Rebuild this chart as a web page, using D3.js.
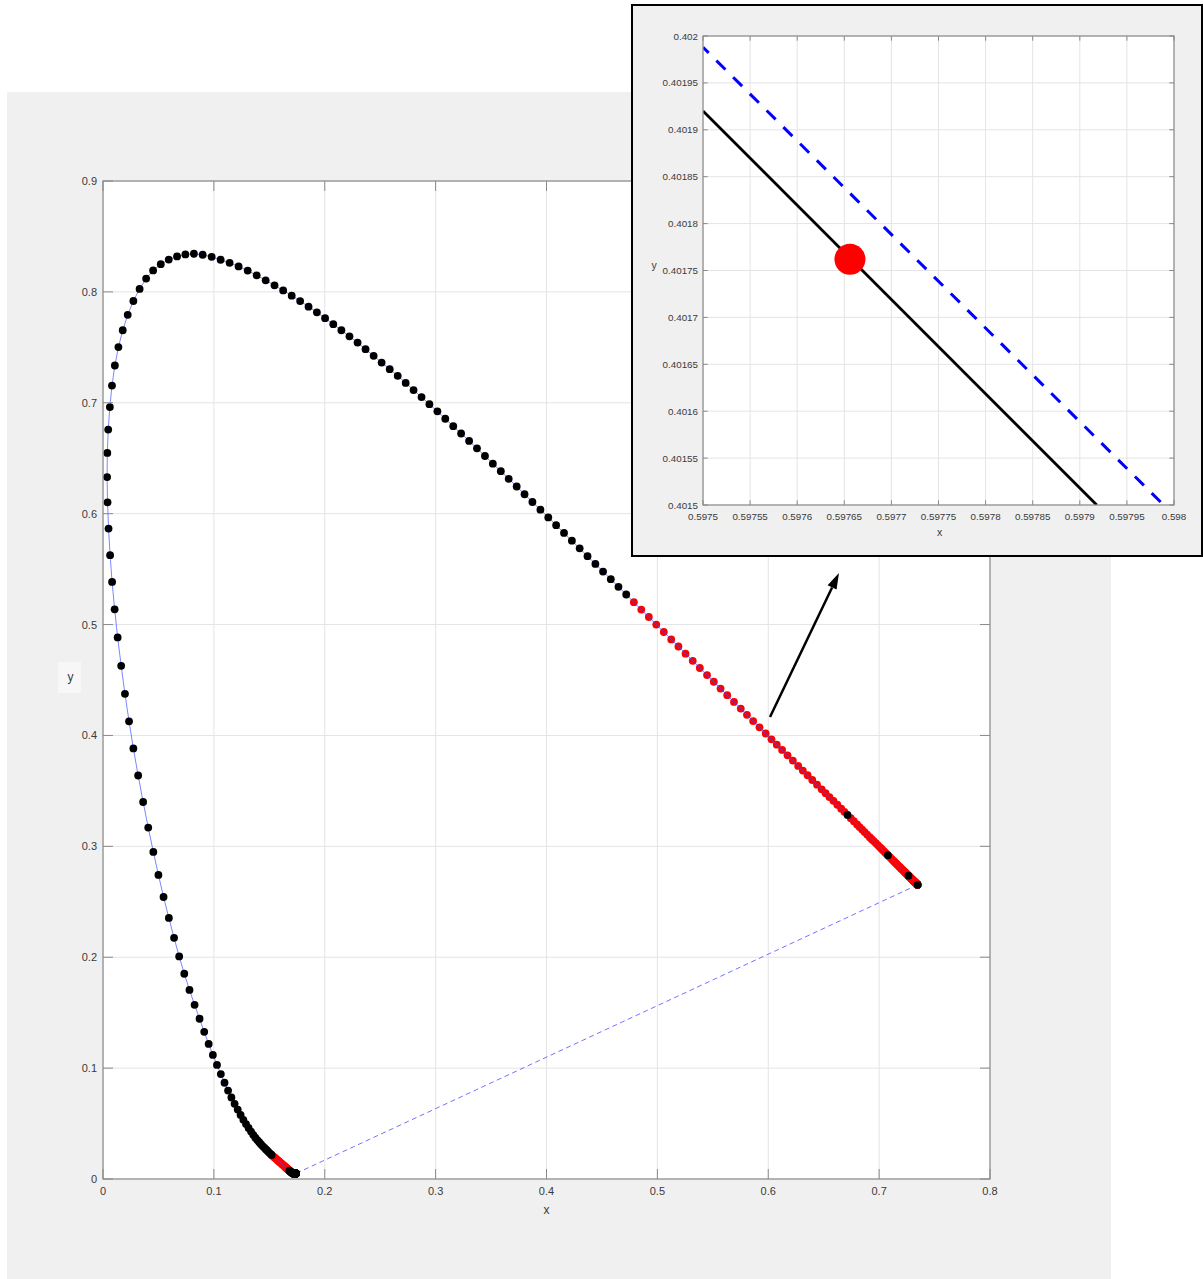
<!DOCTYPE html>
<html>
<head>
<meta charset="utf-8">
<script src="https://cdn.jsdelivr.net/npm/d3@7"></script>
<style>
  html, body { margin: 0; padding: 0; background: #ffffff; }
  svg { display: block; }
  text { font-family: "Liberation Sans", Arial, Helvetica, sans-serif; }
</style>
</head>
<body>
<svg id="chart" width="1203" height="1279"></svg>
<script>
// ---------------- DATA ----------------
// Spectral locus chromaticity points, one per nm, starting at 380 nm
const wavelengthStart = 380;
const locusX = [
  .1741,.1741,.1741,.1740,.1740,.1740,.1740,.1739,.1739,.1738,
  .1738,.1738,.1737,.1737,.1736,.1736,.1735,.1735,.1734,.1734,
  .1733,.1732,.1732,.1731,.1731,.1730,.1729,.1728,.1728,.1727,
  .1726,.1725,.1724,.1723,.1722,.1721,.1720,.1718,.1717,.1716,
  .1714,.1712,.1710,.1707,.1705,.1703,.1700,.1697,.1695,.1692,
  .1689,.1685,.1681,.1677,.1673,.1669,.1664,.1659,.1654,.1649,
  .1644,.1637,.1631,.1624,.1618,.1611,.1602,.1593,.1584,.1575,
  .1566,.1555,.1544,.1532,.1521,.1510,.1496,.1482,.1468,.1454,
  .1440,.1424,.1409,.1392,.1374,.1355,.1335,.1313,.1290,.1266,
  .1241,.1215,.1187,.1158,.1128,.1096,.1063,.1028,.0991,.0953,
  .0913,.0871,.0826,.0780,.0733,.0687,.0641,.0594,.0546,.0500,
  .0454,.0408,.0362,.0317,.0274,.0235,.0198,.0164,.0132,.0105,
  .0082,.0064,.0050,.0041,.0037,.0039,.0047,.0062,.0081,.0107,
  .0139,.0178,.0223,.0274,.0330,.0389,.0452,.0521,.0593,.0668,
  .0743,.0820,.0899,.0980,.1061,.1142,.1223,.1305,.1386,.1467,
  .1547,.1625,.1702,.1778,.1854,.1929,.2003,.2077,.2150,.2223,
  .2296,.2368,.2441,.2513,.2586,.2658,.2730,.2801,.2873,.2944,
  .3016,.3087,.3159,.3230,.3302,.3373,.3445,.3516,.3588,.3659,
  .3731,.3802,.3873,.3945,.4016,.4087,.4158,.4229,.4299,.4370,
  .4441,.4510,.4580,.4649,.4719,.4788,.4855,.4923,.4990,.5058,
  .5125,.5190,.5254,.5319,.5383,.5448,.5509,.5570,.5630,.5691,
  .5752,.5808,.5864,.5921,.59766,.6029,.6077,.6125,.6174,.6222,
  .6270,.6312,.6355,.6397,.6440,.6482,.6517,.6552,.6588,.6623,
  .6658,.6687,.6715,.6744,.6772,.6801,.6824,.6847,.6869,.6892,
  .6915,.6933,.6951,.6970,.6988,.7006,.7021,.7035,.7050,.7064,
  .7079,.7091,.7103,.7116,.7128,.7140,.7150,.7160,.7170,.7180,
  .7190,.7198,.7206,.7214,.7222,.7230,.7236,.7242,.7248,.7254,
  .7260,.7265,.7269,.7274,.7278,.7283,.7286,.7290,.7293,.7297,
  .7300,.7302,.7304,.7307,.7309,.7311,.7313,.7315,.7316,.7318,
  .7320,.7321,.7323,.7324,.7326,.7327,.7328,.7330,.7331,.7333,
  .7334,.7335,.7336,.7338,.7339,.7340,.7341,.7342,.7342,.7343,
  .7344,.7344,.7345,.7345,.7346,.7346,.7346,.7347,.7347,.7347,.7347
];
const locusY = [
  .0050,.0050,.0050,.0050,.0050,.0050,.0050,.0050,.0049,.0049,
  .0049,.0049,.0049,.0049,.0049,.0049,.0049,.0048,.0048,.0048,
  .0048,.0048,.0048,.0048,.0048,.0048,.0048,.0048,.0048,.0048,
  .0048,.0048,.0048,.0048,.0048,.0048,.0048,.0049,.0049,.0050,
  .0051,.0052,.0054,.0055,.0057,.0058,.0060,.0062,.0064,.0067,
  .0069,.0072,.0076,.0079,.0083,.0086,.0091,.0095,.0100,.0104,
  .0109,.0115,.0121,.0126,.0132,.0138,.0146,.0154,.0161,.0169,
  .0177,.0187,.0197,.0207,.0217,.0227,.0241,.0255,.0269,.0283,
  .0297,.0314,.0332,.0351,.0373,.0399,.0428,.0460,.0495,.0534,
  .0578,.0626,.0678,.0735,.0797,.0868,.0946,.1029,.1119,.1218,
  .1327,.1445,.1571,.1705,.1851,.2007,.2175,.2354,.2543,.2742,
  .2950,.3169,.3400,.3639,.3883,.4127,.4375,.4628,.4884,.5137,
  .5384,.5626,.5866,.6102,.6330,.6548,.6758,.6961,.7155,.7336,
  .7502,.7654,.7793,.7918,.8027,.8120,.8194,.8250,.8291,.8320,
  .8338,.8344,.8335,.8316,.8290,.8262,.8230,.8192,.8149,.8104,
  .8059,.8013,.7966,.7917,.7867,.7816,.7763,.7709,.7654,.7599,
  .7543,.7483,.7423,.7363,.7303,.7243,.7179,.7115,.7051,.6987,
  .6923,.6856,.6789,.6723,.6656,.6589,.6520,.6451,.6383,.6314,
  .6245,.6175,.6105,.6036,.5966,.5896,.5826,.5756,.5687,.5617,
  .5547,.5478,.5409,.5340,.5271,.5202,.5135,.5068,.5000,.4933,
  .4866,.4802,.4737,.4673,.4608,.4544,.4484,.4423,.4363,.4302,
  .4242,.4186,.4130,.4073,.40176,.3965,.3917,.3869,.3821,.3773,
  .3725,.3683,.3641,.3598,.3556,.3514,.3479,.3444,.3410,.3375,
  .3340,.3311,.3283,.3254,.3226,.3197,.3174,.3151,.3129,.3106,
  .3083,.3065,.3047,.3029,.3011,.2993,.2978,.2964,.2949,.2935,
  .2920,.2908,.2896,.2883,.2871,.2859,.2849,.2839,.2829,.2819,
  .2809,.2801,.2793,.2786,.2778,.2770,.2764,.2758,.2752,.2746,
  .2740,.2735,.2731,.2726,.2722,.2717,.2714,.2710,.2707,.2703,
  .2700,.2698,.2696,.2693,.2691,.2689,.2687,.2685,.2684,.2682,
  .2680,.2679,.2677,.2676,.2674,.2673,.2672,.2670,.2669,.2667,
  .2666,.2665,.2664,.2662,.2661,.2660,.2659,.2658,.2658,.2657,
  .2656,.2656,.2655,.2655,.2654,.2654,.2654,.2653,.2653,.2653,.2653
];
// wavelength spans (nm) whose markers are red, and black markers inside them
const redSpans = [[433, 453], [575, 699]];
const blackInRed = [612, 630, 651];

// main axes ticks
const xTicks = [0, 0.1, 0.2, 0.3, 0.4, 0.5, 0.6, 0.7, 0.8];
const xTickLabels = ["0", "0.1", "0.2", "0.3", "0.4", "0.5", "0.6", "0.7", "0.8"];
const yTicks = [0, 0.1, 0.2, 0.3, 0.4, 0.5, 0.6, 0.7, 0.8, 0.9];
const yTickLabels = ["0", "0.1", "0.2", "0.3", "0.4", "0.5", "0.6", "0.7", "0.8", "0.9"];

// arrow annotation (main-axes data coordinates: tail, tip)
const arrowX = [0.6016, 0.6638];
const arrowY = [0.4166, 0.5465];

// inset (zoom) axes
const insetXTicks = [0.5975, 0.59755, 0.5976, 0.59765, 0.5977, 0.59775, 0.5978, 0.59785, 0.5979, 0.59795, 0.598];
const insetXTickLabels = ["0.5975", "0.59755", "0.5976", "0.59765", "0.5977", "0.59775", "0.5978", "0.59785", "0.5979", "0.59795", "0.598"];
const insetYTicks = [0.4015, 0.40155, 0.4016, 0.40165, 0.4017, 0.40175, 0.4018, 0.40185, 0.4019, 0.40195, 0.402];
const insetYTickLabels = ["0.4015", "0.40155", "0.4016", "0.40165", "0.4017", "0.40175", "0.4018", "0.40185", "0.4019", "0.40195", "0.402"];
const insetBlackX = [0.5975, 0.597918];
const insetBlackY = [0.40192, 0.4015];
const insetBlueX = [0.5975, 0.597989];
const insetBlueY = [0.401988, 0.4015];
const insetPointX = [0.597656];
const insetPointY = [0.401762];

// ---------------- DRAWING ----------------
const svg = d3.select("#chart");
const FONT_COLOR = "#3a3a3a";
const AXIS_COLOR = "#8a8a8a";
const GRID_COLOR = "#e4e4e4";
const DOT_R = 3.9;

// figure background
svg.append("rect").attr("x", 7).attr("y", 92).attr("width", 1104).attr("height", 1187).attr("fill", "#f0f0f0");

// main axes geometry
const M = { left: 103, top: 181, right: 990, bottom: 1179 };
const xS = d3.scaleLinear().domain([0, 0.8]).range([M.left, M.right]);
const yS = d3.scaleLinear().domain([0, 0.9]).range([M.bottom, M.top]);

const main = svg.append("g");
main.append("rect").attr("x", M.left).attr("y", M.top)
  .attr("width", M.right - M.left).attr("height", M.bottom - M.top).attr("fill", "#ffffff");

// grid
main.append("g").selectAll("line").data(xTicks).join("line")
  .attr("x1", d => xS(d)).attr("x2", d => xS(d)).attr("y1", M.top).attr("y2", M.bottom)
  .attr("stroke", GRID_COLOR).attr("stroke-width", 1);
main.append("g").selectAll("line").data(yTicks).join("line")
  .attr("y1", d => yS(d)).attr("y2", d => yS(d)).attr("x1", M.left).attr("x2", M.right)
  .attr("stroke", GRID_COLOR).attr("stroke-width", 1);

const points = locusX.map((x, i) => ({ w: wavelengthStart + i, x: x, y: locusY[i] }));
const isRed = w => redSpans.some(s => w >= s[0] && w <= s[1]) && !blackInRed.includes(w);

// red markers
main.append("g").selectAll("circle").data(points.filter(p => isRed(p.w))).join("circle")
  .attr("cx", d => xS(d.x)).attr("cy", d => yS(d.y)).attr("r", DOT_R).attr("fill", "#ff0000");

// locus line
const lineGen = d3.line().x(d => xS(d.x)).y(d => yS(d.y));
main.append("path").attr("d", lineGen(points)).attr("fill", "none")
  .attr("stroke", "#3b4cff").attr("stroke-width", 0.8).attr("stroke-opacity", 0.85);

// purple line (closing the locus)
const closing = [points[points.length - 1], points[0]];
main.append("path").attr("d", lineGen(closing)).attr("fill", "none")
  .attr("stroke", "#4f4fff").attr("stroke-width", 0.8).attr("stroke-dasharray", "5,3.5");

// black markers
main.append("g").selectAll("circle").data(points.filter(p => !isRed(p.w))).join("circle")
  .attr("cx", d => xS(d.x)).attr("cy", d => yS(d.y)).attr("r", DOT_R).attr("fill", "#000000");

// axes box
main.append("rect").attr("x", M.left).attr("y", M.top)
  .attr("width", M.right - M.left).attr("height", M.bottom - M.top)
  .attr("fill", "none").attr("stroke", AXIS_COLOR).attr("stroke-width", 1.2);

// ticks (inward, all sides)
const TL = 10;
const tg = main.append("g").attr("stroke", AXIS_COLOR).attr("stroke-width", 1);
tg.selectAll(".xb").data(xTicks).join("line").attr("class", "xb")
  .attr("x1", d => xS(d)).attr("x2", d => xS(d)).attr("y1", M.bottom).attr("y2", M.bottom - TL);
tg.selectAll(".xt").data(xTicks).join("line").attr("class", "xt")
  .attr("x1", d => xS(d)).attr("x2", d => xS(d)).attr("y1", M.top).attr("y2", M.top + TL);
tg.selectAll(".yl").data(yTicks).join("line").attr("class", "yl")
  .attr("y1", d => yS(d)).attr("y2", d => yS(d)).attr("x1", M.left).attr("x2", M.left + TL);
tg.selectAll(".yr").data(yTicks).join("line").attr("class", "yr")
  .attr("y1", d => yS(d)).attr("y2", d => yS(d)).attr("x1", M.right).attr("x2", M.right - TL);

// tick labels
main.append("g").selectAll("text").data(xTicks).join("text")
  .attr("x", d => xS(d)).attr("y", M.bottom + 16).attr("text-anchor", "middle")
  .attr("font-size", 11).attr("fill", FONT_COLOR).text((d, i) => xTickLabels[i]);
main.append("g").selectAll("text").data(yTicks).join("text")
  .attr("x", M.left - 6).attr("y", d => yS(d) + 4).attr("text-anchor", "end")
  .attr("font-size", 11).attr("fill", FONT_COLOR).text((d, i) => yTickLabels[i]);

// axis labels
main.append("text").attr("x", (M.left + M.right) / 2).attr("y", 1214).attr("text-anchor", "middle")
  .attr("font-size", 12).attr("fill", FONT_COLOR).text("x");
main.append("rect").attr("x", 58).attr("y", 662).attr("width", 23).attr("height", 31).attr("fill", "#f7f7f7");
main.append("text").attr("x", 70.5).attr("y", 681).attr("text-anchor", "middle")
  .attr("font-size", 12).attr("fill", FONT_COLOR).text("y");

// arrow
const ax0 = xS(arrowX[0]), ay0 = yS(arrowY[0]), ax1 = xS(arrowX[1]), ay1 = yS(arrowY[1]);
const ang = Math.atan2(ay1 - ay0, ax1 - ax0);
const HL = 16, HW = 5;
const bx = ax1 - HL * Math.cos(ang), by = ay1 - HL * Math.sin(ang);
svg.append("line").attr("x1", ax0).attr("y1", ay0).attr("x2", bx).attr("y2", by)
  .attr("stroke", "#000").attr("stroke-width", 2.5);
svg.append("polygon").attr("fill", "#000").attr("points", [
  [ax1, ay1],
  [bx + HW * Math.sin(ang), by - HW * Math.cos(ang)],
  [bx - HW * Math.sin(ang), by + HW * Math.cos(ang)]
].map(p => p.join(",")).join(" "));

// ---------------- INSET ----------------
const inset = svg.append("g");
inset.append("rect").attr("x", 632).attr("y", 5).attr("width", 570).attr("height", 551)
  .attr("fill", "#f0f0f0").attr("stroke", "#000").attr("stroke-width", 2);
const I = { left: 703, top: 36, right: 1174, bottom: 505 };
const ixS = d3.scaleLinear().domain([0.5975, 0.598]).range([I.left, I.right]);
const iyS = d3.scaleLinear().domain([0.4015, 0.402]).range([I.bottom, I.top]);

inset.append("rect").attr("x", I.left).attr("y", I.top)
  .attr("width", I.right - I.left).attr("height", I.bottom - I.top).attr("fill", "#ffffff");
svg.append("defs").append("clipPath").attr("id", "insetClip").append("rect")
  .attr("x", I.left).attr("y", I.top).attr("width", I.right - I.left).attr("height", I.bottom - I.top);

inset.append("g").selectAll("line").data(insetXTicks).join("line")
  .attr("x1", d => ixS(d)).attr("x2", d => ixS(d)).attr("y1", I.top).attr("y2", I.bottom)
  .attr("stroke", GRID_COLOR).attr("stroke-width", 1);
inset.append("g").selectAll("line").data(insetYTicks).join("line")
  .attr("y1", d => iyS(d)).attr("y2", d => iyS(d)).attr("x1", I.left).attr("x2", I.right)
  .attr("stroke", GRID_COLOR).attr("stroke-width", 1);

const iLine = d3.line().x(d => ixS(d[0])).y(d => iyS(d[1]));
const plotArea = inset.append("g").attr("clip-path", "url(#insetClip)");
plotArea.append("path").attr("d", iLine(insetBlackX.map((x, i) => [x, insetBlackY[i]])))
  .attr("fill", "none").attr("stroke", "#000").attr("stroke-width", 2.8);
plotArea.append("path").attr("d", iLine(insetBlueX.map((x, i) => [x, insetBlueY[i]])))
  .attr("fill", "none").attr("stroke", "#0000ff").attr("stroke-width", 3)
  .attr("stroke-dasharray", "12.7,10.9").attr("stroke-dashoffset", 4.7);
plotArea.selectAll("circle").data(insetPointX).join("circle")
  .attr("cx", d => ixS(d)).attr("cy", (d, i) => iyS(insetPointY[i])).attr("r", 15.5).attr("fill", "#ff0000");

inset.append("rect").attr("x", I.left).attr("y", I.top)
  .attr("width", I.right - I.left).attr("height", I.bottom - I.top)
  .attr("fill", "none").attr("stroke", AXIS_COLOR).attr("stroke-width", 1.2);
const ITL = 4.7;
const itg = inset.append("g").attr("stroke", AXIS_COLOR).attr("stroke-width", 1);
itg.selectAll(".xb").data(insetXTicks).join("line").attr("class", "xb")
  .attr("x1", d => ixS(d)).attr("x2", d => ixS(d)).attr("y1", I.bottom).attr("y2", I.bottom - ITL);
itg.selectAll(".xt").data(insetXTicks).join("line").attr("class", "xt")
  .attr("x1", d => ixS(d)).attr("x2", d => ixS(d)).attr("y1", I.top).attr("y2", I.top + ITL);
itg.selectAll(".yl").data(insetYTicks).join("line").attr("class", "yl")
  .attr("y1", d => iyS(d)).attr("y2", d => iyS(d)).attr("x1", I.left).attr("x2", I.left + ITL);
itg.selectAll(".yr").data(insetYTicks).join("line").attr("class", "yr")
  .attr("y1", d => iyS(d)).attr("y2", d => iyS(d)).attr("x1", I.right).attr("x2", I.right - ITL);

inset.append("g").selectAll("text").data(insetXTicks).join("text")
  .attr("x", d => ixS(d)).attr("y", I.bottom + 15).attr("text-anchor", "middle")
  .attr("font-size", 9.8).attr("fill", FONT_COLOR).text((d, i) => insetXTickLabels[i]);
inset.append("g").selectAll("text").data(insetYTicks).join("text")
  .attr("x", I.left - 5).attr("y", d => iyS(d) + 3.5).attr("text-anchor", "end")
  .attr("font-size", 9.8).attr("fill", FONT_COLOR).text((d, i) => insetYTickLabels[i]);
inset.append("text").attr("x", (I.left + I.right) / 2 + 1).attr("y", 536).attr("text-anchor", "middle")
  .attr("font-size", 10.5).attr("fill", FONT_COLOR).text("x");
inset.append("text").attr("x", 654).attr("y", 269).attr("text-anchor", "middle")
  .attr("font-size", 10.5).attr("fill", FONT_COLOR).text("y");
</script>
</body>
</html>
